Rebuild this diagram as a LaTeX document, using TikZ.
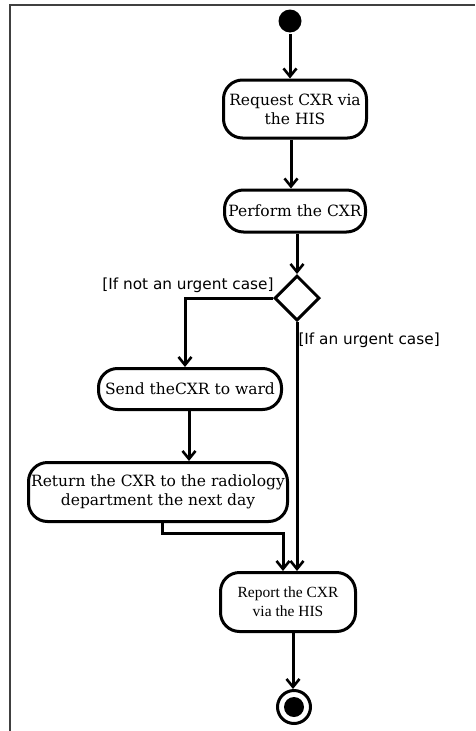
\documentclass[tikz,border=0pt]{standalone}
\usepackage{fontspec}
\setmainfont{DejaVu Serif}
\newfontfamily\labelfont{DejaVu Sans}
\newfontfamily\reportfont{Liberation Serif}
\usetikzlibrary{arrows.meta,shapes.geometric}

\tikzset{every picture/.style={line width=3pt}}
\tikzset{
  activity/.style={draw, rounded corners=19pt, align=center, inner sep=0pt, font=\fontsize{15.5}{19}\selectfont},
  flow/.style={-{Straight Barb[length=8pt,width=13pt,line width=2.6pt]}},
  guard/.style={font=\labelfont\fontsize{15.3}{18}\selectfont, inner sep=0pt}
}

\begin{document}
\begin{tikzpicture}[x=1pt,y=1pt,yscale=-1,xscale=1]
\useasboundingbox (0,0) rectangle (475,731);

%frame
\draw [line width=1.8pt, draw=black!75] (475,5) -- (10,5) -- (10,731);

%initial node
\node (start) [circle, fill=black, inner sep=0pt, minimum size=23pt] at (290,21) {};

%activities
\node (request) [activity, minimum width=143pt, minimum height=58pt] at (295,109) {Request CXR via\\the HIS};
\node (perform) [activity, minimum width=141pt, minimum height=42pt] at (295,211) {Perform the CXR};
\node (decide) [diamond, draw, inner sep=0pt, minimum width=45pt, minimum height=45pt] at (297,298) {};
\node (send) [activity, minimum width=183pt, minimum height=41pt] at (190,389) {Send theCXR to ward};
\node (return) [activity, minimum width=259pt, minimum height=59pt] at (158,492) {Return the CXR to the radiology\\department the next day};
\node (report) [activity, minimum width=135pt, minimum height=59pt, font=\reportfont\fontsize{15.5}{19}\selectfont] at (288,602) {Report the CXR\\via the HIS};

%final node
\node (stop) [circle, draw, inner sep=0pt, minimum size=33pt] at (294,707) {};
\node (stopdot) [circle, fill=black, inner sep=0pt, minimum size=20pt] at (stop.center) {};

%guards
\node (notUrgent) [guard, anchor=east] at (275,285) {[If not an urgent case]};
\node (urgent) [guard, anchor=west] at (297,340) {[If an urgent case]};

%flows
\draw [flow] (start) -- (start |- request.north);
\draw [flow] (request.south -| 291,0) -- (perform.north -| 291,0);
\draw [flow] (perform.south -| decide.north) -- (decide.north);
\draw [flow] (decide.west) -| (send.north -| 185,0);
\draw [flow] (send.south -| 189,0) -- (return.north -| 189,0);
\draw [flow] (return.south -| 162,0) |- (283,533) -- (report.north -| 283,0);
\draw [flow] (decide.south) -- (report.north -| 297,0);
\draw [flow] (report.south -| 293,0) -- (stop.north -| 293,0);

\end{tikzpicture}
\end{document}
